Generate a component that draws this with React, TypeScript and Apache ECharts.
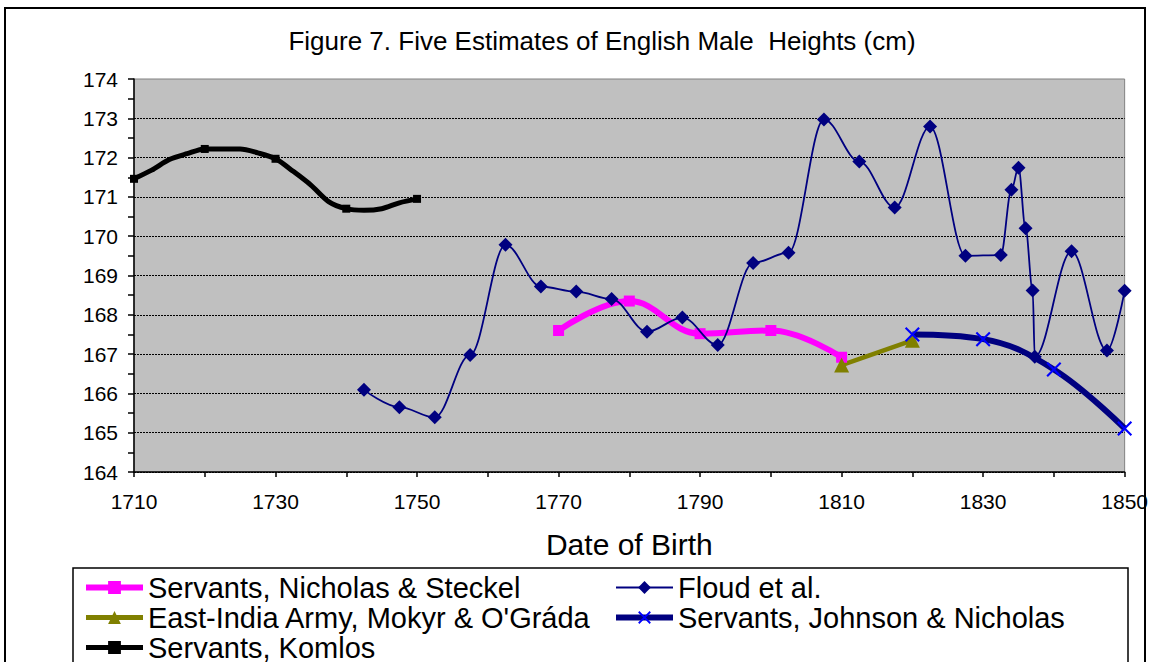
import React, { useEffect, useRef } from 'react';
import * as echarts from 'echarts';

const FONT = '"Liberation Sans", Arial, sans-serif';

const titleText = 'Figure 7. Five Estimates of English Male  Heights (cm)';
const xAxisTitle = 'Date of Birth';

const seriesNames = [
  'Servants, Nicholas & Steckel',
  'Floud et al.',
  "East-India Army, Mokyr & O'Gráda",
  'Servants, Johnson & Nicholas',
  'Servants, Komlos',
];

const nsYears = [1770, 1780, 1790, 1800, 1810];
const nsHeights = [167.6, 168.35, 167.52, 167.6, 166.92];

const floudYears = [1742.5, 1747.5, 1752.5, 1757.5, 1762.5, 1767.5, 1772.5, 1777.5, 1782.5, 1787.5, 1792.5, 1797.5, 1802.5, 1807.5, 1812.5, 1817.5, 1822.5, 1827.5, 1832.5, 1834, 1835, 1836, 1837, 1837.3, 1842.5, 1847.5, 1850];
const floudHeights = [166.09, 165.65, 165.39, 166.98, 169.78, 168.72, 168.59, 168.4, 167.57, 167.93, 167.23, 169.32, 169.58, 172.97, 171.9, 170.73, 172.79, 169.5, 169.52, 171.18, 171.74, 170.2, 168.62, 166.93, 169.62, 167.09, 168.61];

const mokyrYears = [1810, 1820];
const mokyrHeights = [166.72, 167.35];

const jnYears = [1820, 1830, 1840, 1850];
const jnHeights = [167.5, 167.38, 166.61, 165.11];

const komlosYears = [1710, 1712.5, 1715, 1717.5, 1720, 1722.5, 1725, 1727.5, 1730, 1732.5, 1735, 1737.5, 1740, 1742.5, 1745, 1747.5, 1750];
const komlosHeights = [171.46, 171.68, 171.95, 172.1, 172.22, 172.22, 172.22, 172.12, 171.97, 171.65, 171.3, 170.88, 170.7, 170.66, 170.7, 170.85, 170.95];
const komlosMarkerYears = [1710, 1720, 1730, 1740, 1750];

const xMin = 1710;
const xMax = 1850;
const yMin = 164;
const yMax = 174;

const X_SYMBOL = 'path://M0,1L1,0L5,4L9,0L10,1L6,5L10,9L9,10L5,6L1,10L0,9L4,5Z';

function pairs(xs: number[], ys: number[]) {
  return xs.map((x, i) => [x, ys[i]]);
}

export default function App() {
  const ref = useRef<HTMLDivElement>(null);
  useEffect(() => {
    const chart = echarts.init(ref.current as HTMLDivElement, null, { renderer: 'svg' });
    const legendText = { fontFamily: FONT, fontSize: 29, color: '#000' };
    const legendCommon = {
      orient: 'vertical',
      top: 573,
      padding: 0,
      itemGap: 1,
      itemWidth: 57,
      itemHeight: 16,
      textStyle: legendText,
    };
    chart.setOption({
      animation: false,
      backgroundColor: '#fff',
      title: {
        text: titleText,
        left: 602,
        textAlign: 'center',
        top: 28,
        padding: 0,
        textStyle: { fontFamily: FONT, fontSize: 26, fontWeight: 'normal', color: '#000' },
      },
      graphic: [
        { type: 'rect', shape: { x: 5, y: 8, width: 1140, height: 700 }, style: { fill: 'none', stroke: '#000', lineWidth: 2 }, z: -1 },
        { type: 'rect', shape: { x: 73, y: 568, width: 1055, height: 200 }, style: { fill: 'none', stroke: '#000', lineWidth: 1.5 }, z: -1 },
      ],
      legend: [
        {
          ...legendCommon,
          left: 83,
          data: [
            { name: seriesNames[0], lineStyle: { width: 6 } },
            { name: seriesNames[2], lineStyle: { width: 5 } },
            { name: seriesNames[4], lineStyle: { width: 5 } },
          ],
        },
        {
          ...legendCommon,
          left: 613,
          data: [
            { name: seriesNames[1], lineStyle: { width: 2 } },
            { name: seriesNames[3], lineStyle: { width: 6 } },
          ],
        },
      ],
      grid: {
        left: 134,
        right: 26,
        top: 79,
        bottom: 190,
        show: true,
        backgroundColor: '#C0C0C0',
        borderColor: '#808080',
        borderWidth: 1,
      },
      xAxis: {
        type: 'value',
        min: xMin,
        max: xMax,
        interval: 10,
        name: xAxisTitle,
        nameLocation: 'middle',
        nameGap: 57,
        nameTextStyle: { fontFamily: FONT, fontSize: 30, color: '#000' },
        axisLine: { show: true, onZero: false, lineStyle: { color: '#000', width: 1.5 } },
        axisTick: { show: true, length: 5, lineStyle: { color: '#000', width: 1.5 } },
        axisLabel: {
          margin: 19,
          fontFamily: FONT,
          fontSize: 21,
          color: '#000',
          showMaxLabel: true,
          formatter: (v: number) => ((v - xMin) % 20 === 0 ? String(v) : ''),
        },
        splitLine: { show: false },
      },
      yAxis: {
        type: 'value',
        min: yMin,
        max: yMax,
        interval: 1,
        axisLine: { show: true, lineStyle: { color: '#000', width: 1.5 } },
        axisTick: { show: true, length: 6, lineStyle: { color: '#000', width: 1.5 } },
        minorTick: { show: true, splitNumber: 2, length: 6, lineStyle: { color: '#000', width: 1.5 } },
        axisLabel: { margin: 16, fontFamily: FONT, fontSize: 21, color: '#000' },
        splitLine: { show: true, showMaxLine: false, lineStyle: { color: '#000', width: 1, type: [2, 1] } },
      },
      series: [
        {
          name: seriesNames[0],
          type: 'line',
          smooth: 0.4,
          data: pairs(nsYears, nsHeights),
          symbol: 'rect',
          symbolSize: 11,
          lineStyle: { color: '#FF00FF', width: 6 },
          itemStyle: { color: '#FF00FF' },
          z: 3,
        },
        {
          name: seriesNames[1],
          type: 'line',
          smooth: 0.35,
          smoothMonotone: 'x',
          data: pairs(floudYears, floudHeights),
          symbol: 'diamond',
          symbolSize: 14,
          lineStyle: { color: '#000080', width: 1.8 },
          itemStyle: { color: '#000080' },
          z: 4,
        },
        {
          name: seriesNames[2],
          type: 'line',
          data: pairs(mokyrYears, mokyrHeights),
          symbol: 'triangle',
          symbolSize: 15,
          lineStyle: { color: '#808000', width: 4.5 },
          itemStyle: { color: '#808000' },
          z: 3,
        },
        {
          name: seriesNames[3],
          type: 'line',
          smooth: 0.4,
          data: pairs(jnYears, jnHeights),
          symbol: X_SYMBOL,
          symbolSize: 15,
          lineStyle: { color: '#000080', width: 6 },
          itemStyle: { color: '#0000FF' },
          z: 3,
        },
        {
          name: seriesNames[4],
          type: 'line',
          smooth: 0.3,
          data: komlosYears.map((x, i) => ({
            value: [x, komlosHeights[i]],
            symbol: komlosMarkerYears.includes(x) ? 'rect' : 'none',
          })),
          symbol: 'rect',
          symbolSize: 8,
          lineStyle: { color: '#000', width: 5 },
          itemStyle: { color: '#000' },
          z: 3,
        },
      ],
    });
    return () => chart.dispose();
  }, []);
  return (
    <div
      ref={ref}
      style={{ position: 'fixed', left: 0, top: 0, width: 1151, height: 662, background: '#fff' }}
    />
  );
}
